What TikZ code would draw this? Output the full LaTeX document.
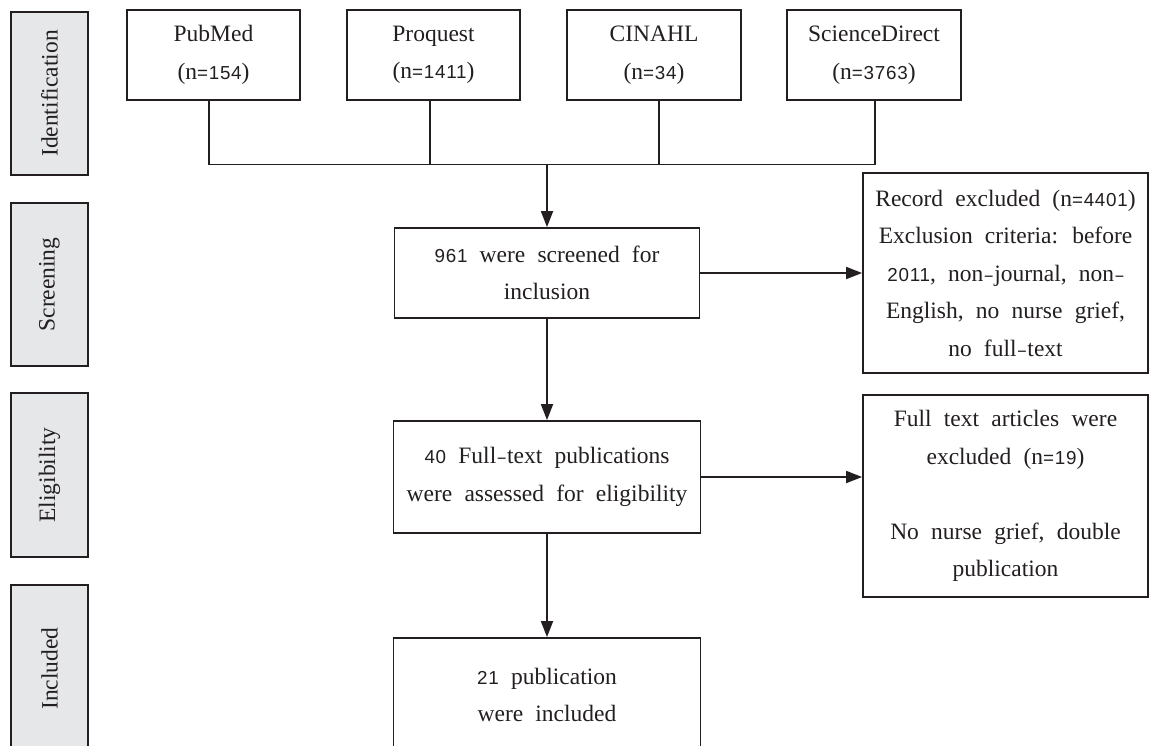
\documentclass[tikz,border=0pt]{standalone}
\usepackage{fontspec}
\setmainfont{Liberation Serif}
\newfontfamily\numf[Scale=0.8,LetterSpace=4]{Liberation Sans}
\usetikzlibrary{arrows.meta}
\definecolor{ink}{HTML}{231F20}
\definecolor{sidefill}{HTML}{E6E7E8}
\newcommand{\nm}[1]{{\numf #1}}
\newcommand{\hy}{{\numf\hspace{1.5pt}\scalebox{0.75}[1]{–}\hspace{1.5pt}}}
\newcommand{\boxfont}{\fontsize{23.5}{37.5}\selectfont\spaceskip=0.52em plus 0.1em\relax}
\begin{document}
\begin{tikzpicture}[x=1pt,y=-1pt,
  every node/.style={font=\boxfont, text=ink},
  box/.style={draw=ink, line width=1.8pt, fill=white, align=center, inner sep=0pt},
  side/.style={draw=ink, fill=sidefill, line width=1.8pt, inner sep=0pt, rotate=90, minimum height=77},
  conn/.style={draw=ink, line width=1.8pt},
  arr/.style={conn, -{Triangle[length=16pt,width=12pt]}}]
\useasboundingbox (0,0) rectangle (1149,745);
% stage labels
\node[side, minimum width=163] (sid) at (49.5,93.5) {Identification};
\node[side, minimum width=163] (sscr) at (49.5,284.5) {Screening};
\node[side, minimum width=164] (seli) at (49.5,475) {Eligibility};
\node[side, minimum width=167] (sinc) at (49.5,668.5) {Included};
% sources
\node[box, minimum width=173, minimum height=90] (pub) at (213.5,55) {PubMed\\(n\nm{=154})};
\node[box, minimum width=173, minimum height=90] (pq) at (433.5,55) {Proquest\\(n\nm{=1411})};
\node[box, minimum width=174, minimum height=90] (cin) at (654,55) {CINAHL\\(n\nm{=34})};
\node[box, minimum width=174, minimum height=90] (sd) at (874,55) {ScienceDirect\\(n\nm{=3763})};
% main column
\node[box, minimum width=305, minimum height=90] (scr) at (547,273) {\nm{961} were screened for\\inclusion};
\node[box, minimum width=307, minimum height=112] (eli) at (547,477) {\nm{40} Full\hy text publications\\were assessed for eligibility};
\node[box, minimum width=307, minimum height=114] (inc) at (547,695) {\nm{21} publication\\were included};
% exclusions
\node[box, minimum width=285, minimum height=200] (ex1) at (1005.5,273) {Record excluded (n\nm{=4401})\\Exclusion criteria: before\\\nm{2011}, non\hy journal, non\hy\\English, no nurse grief,\\no full\hy text};
\node[box, minimum width=285, minimum height=202] (ex2) at (1005.5,496) {Full text articles were\\excluded (n\nm{=19})\\[37.5pt]No nurse grief, double\\publication};
% connectors
\coordinate (j) at (scr.north |- 0,164.5);
\draw[conn] ([xshift=-4.5pt]pub.south) -- ([xshift=-4.5pt]pub.south |- j) -- ([xshift=1pt]sd.south |- j) -- ([xshift=1pt]sd.south);
\draw[conn] ([xshift=-3.5pt]pq.south) -- ([xshift=-3.5pt]pq.south |- j);
\draw[conn] ([xshift=5pt]cin.south) -- ([xshift=5pt]cin.south |- j);
\draw[arr] (j) -- (scr.north);
\draw[arr] (scr.east) -- (scr.east -| ex1.west);
\draw[arr] (scr.south) -- (eli.north);
\draw[arr] (eli.east) -- (eli.east -| ex2.west);
\draw[arr] (eli.south) -- (inc.north);
\end{tikzpicture}
\end{document}
